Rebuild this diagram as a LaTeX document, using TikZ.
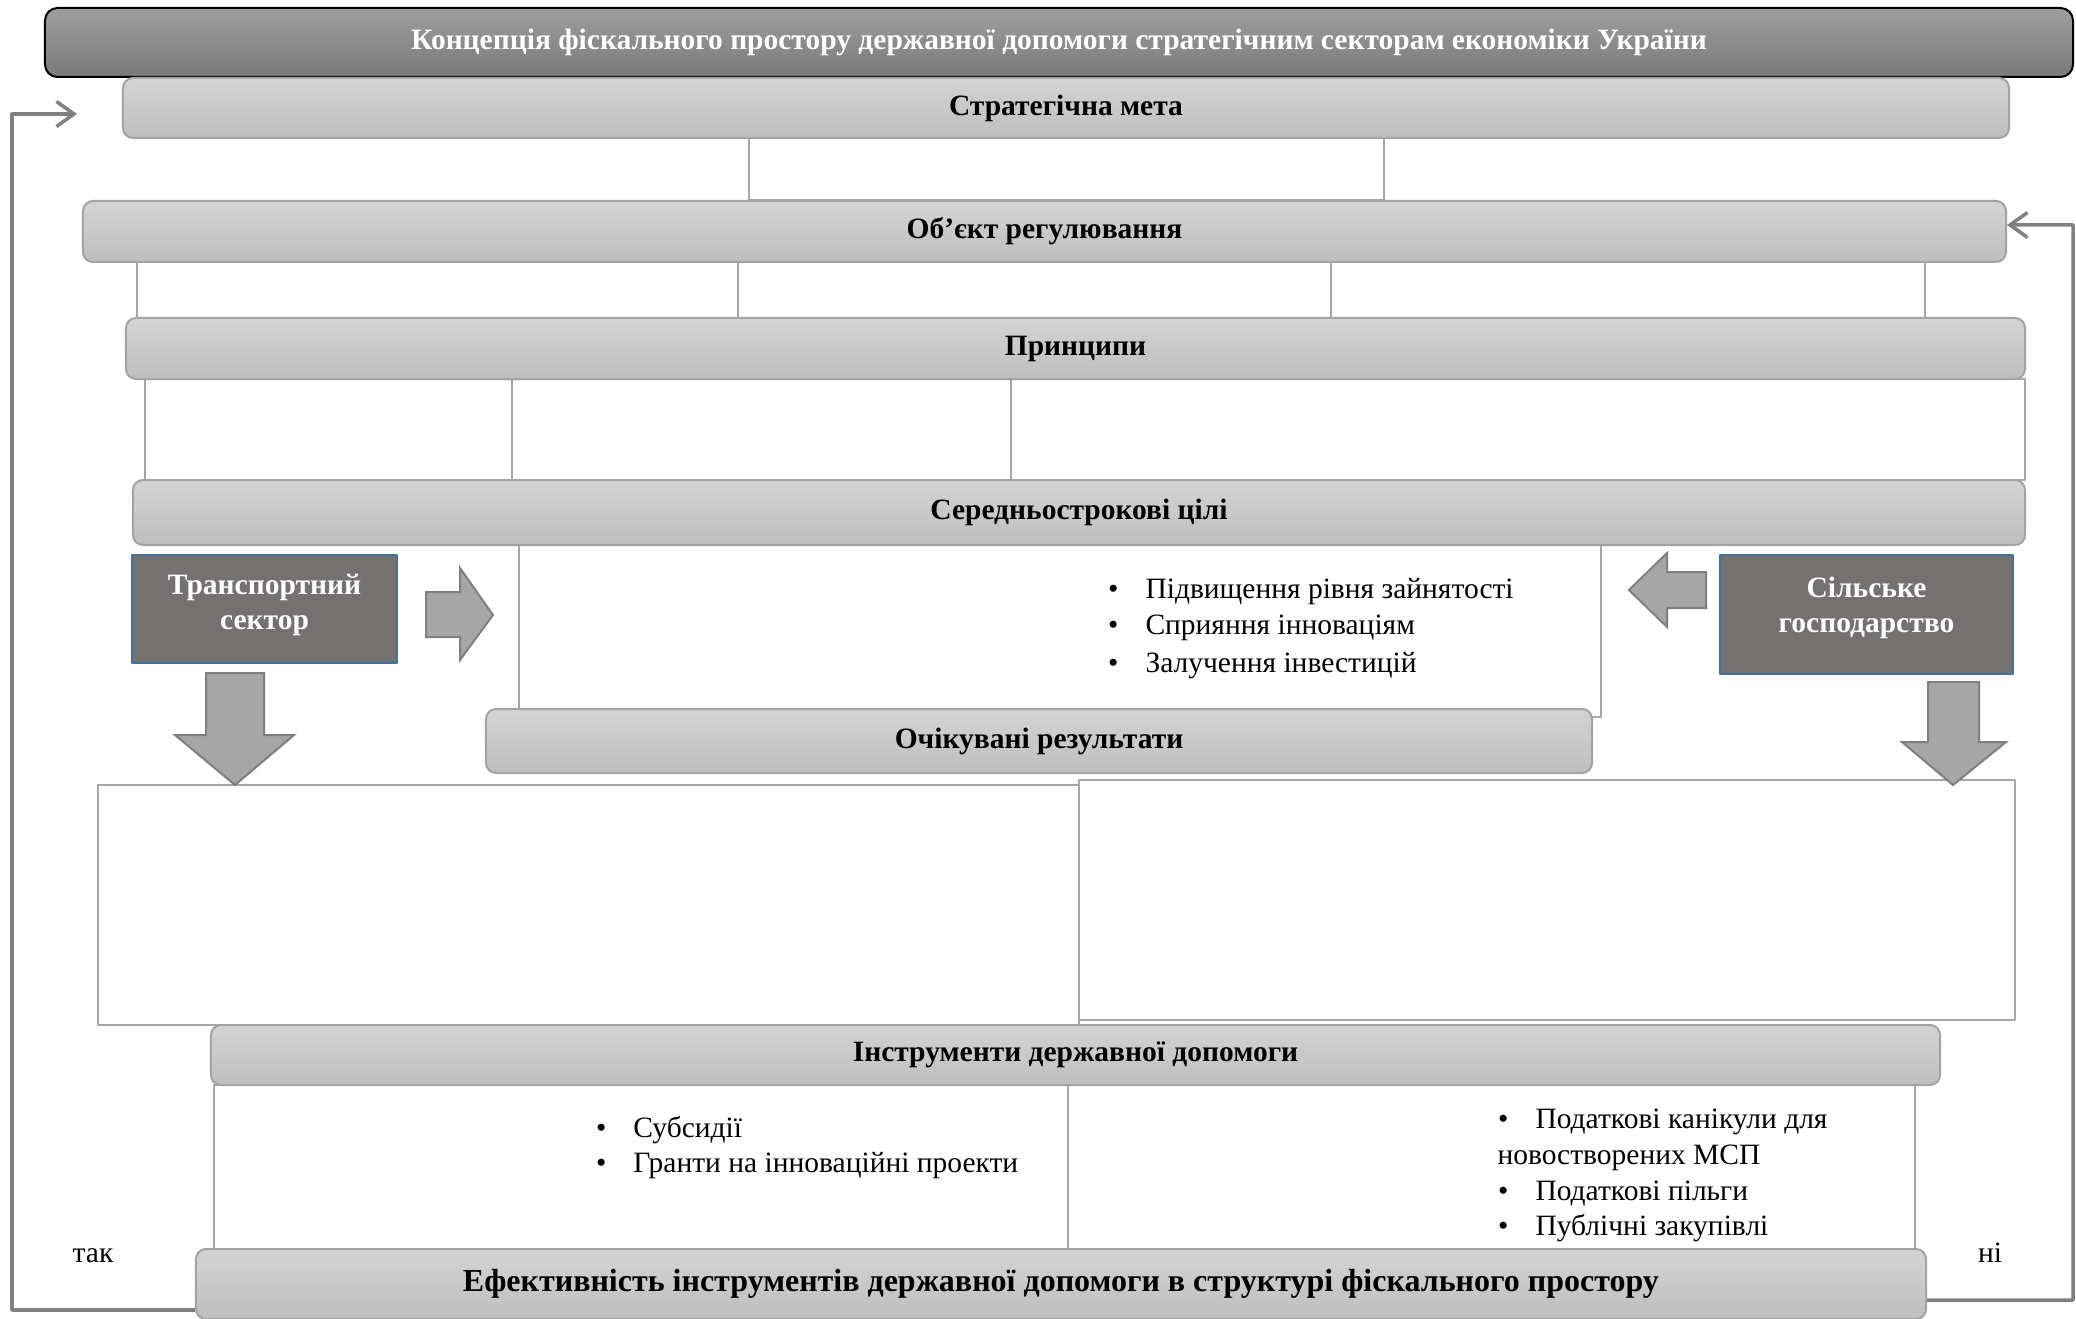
\documentclass[tikz,border=0pt]{standalone}
\usepackage{fontspec}
\setmainfont{Liberation Serif}
\usetikzlibrary{arrows.meta}

\definecolor{titletop}{HTML}{9E9E9E}
\definecolor{titlebot}{HTML}{7A7A7A}
\definecolor{bartop}{HTML}{D4D4D4}
\definecolor{barbot}{HTML}{BEBEBE}
\definecolor{barline}{HTML}{A3A3A3}
\definecolor{cellline}{HTML}{A6A6A6}
\definecolor{sectfill}{HTML}{767171}
\definecolor{sectline}{HTML}{41719C}
\definecolor{arrfill}{HTML}{A6A6A6}
\definecolor{arrline}{HTML}{7F7F7F}
\definecolor{loopcol}{HTML}{808080}

\newcommand{\blt}{\makebox[15pt][l]{•}}

\begin{document}
\fontsize{11.8}{14}\selectfont
\begin{tikzpicture}[line join=round,x=0.4pt,y=-0.4pt,
  titlebar/.style={draw=black,line width=0.8pt,rounded corners=5pt,top color=titletop,bottom color=titlebot,text=white,font=\bfseries,inner sep=0pt},
  bar/.style={draw=barline,line width=0.8pt,rounded corners=4pt,top color=bartop,bottom color=barbot,font=\bfseries,inner sep=0pt},
  cell/.style={draw=cellline,line width=0.8pt,fill=white},
  sector/.style={draw=sectline,line width=0.8pt,fill=sectfill,inner sep=0pt},
  sectlbl/.style={text=white,font=\bfseries,align=center,inner sep=0pt},
  blockarr/.style={draw=arrline,line width=0.8pt,fill=arrfill,line join=miter},
  loopline/.style={draw=loopcol,line width=1.4pt,-{Straight Barb[length=7pt,width=10pt]}},
  item/.style={anchor=base west,inner sep=0pt}]
\useasboundingbox (0,0) rectangle (2076,1319);
%cells behind the bars
\draw [cell] (749,138) rectangle (1384,200);
\draw [cell] (137,262) rectangle (738,318);
\draw [cell] (738,262) rectangle (1331,318);
\draw [cell] (1331,262) rectangle (1925,318);
\draw [cell] (145,379) rectangle (512,480);
\draw [cell] (512,379) rectangle (1011,480);
\draw [cell] (1011,379) rectangle (2025,480);
\draw [cell] (519,545) rectangle (1601,717);
\draw [cell] (98,785) rectangle (1079,1025);
\draw [cell] (1079,780) rectangle (2015,1020);
\draw [cell] (214,1085) rectangle (1068,1249);
\draw [cell] (1068,1085) rectangle (1915,1249);
%bars
\node [titlebar,minimum width=811.2pt,minimum height=27.6pt] (title) at (1059,42.5) {\raisebox{1pt}{Концепція фіскального простору державної допомоги стратегічним секторам економіки України}};
\node [bar,minimum width=754.4pt,minimum height=24pt] (goal) at (1066,108) {Стратегічна мета};
\node [bar,minimum width=769.2pt,minimum height=24.4pt] (object) at (1044.5,231.5) {Об’єкт регулювання};
\node [bar,minimum width=759.6pt,minimum height=24.4pt] (princ) at (1075.5,348.5) {Принципи};
\node [bar,minimum width=756.8pt,minimum height=26pt] (midterm) at (1079,512.5) {Середньострокові цілі};
\node [bar,minimum width=442.4pt,minimum height=25.6pt] (result) at (1039,741) {Очікувані результати};
\node [bar,minimum width=691.6pt,minimum height=24pt] (instr) at (1075.5,1055) {Інструменти державної допомоги};
\node [bar,minimum width=692pt,minimum height=28pt,font=\bfseries\fontsize{12.8}{14}\selectfont] (effect) at (1061,1284) {Ефективність інструментів державної допомоги в структурі фіскального простору};
%sectors
\node [sector,minimum width=106pt,minimum height=43.2pt,label={[sectlbl,yshift=1.8pt]center:Транспортний\\сектор}] (transp) at (264.5,609) {};
\node [sector,minimum width=117.2pt,minimum height=47.6pt,label={[sectlbl,yshift=2.8pt]center:Сільське\\господарство}] (agri) at (1866.5,614.5) {};
\draw [blockarr] (426,592) -- (460,592) -- (460,568) -- (493,615) -- (460,660) -- (460,637) -- (426,637) -- cycle;
\draw [blockarr] (206,673) -- (264,673) -- (264,735) -- (294,735) -- (235,785) -- (175,735) -- (206,735) -- cycle;
\draw [blockarr] (1706,572) -- (1667,572) -- (1667,553) -- (1629,590) -- (1667,627) -- (1667,608) -- (1706,608) -- cycle;
\draw [blockarr] (1928,682) -- (1979,682) -- (1979,742) -- (2006,742) -- (1953,785) -- (1902,742) -- (1928,742) -- cycle;
%feedback
\coordinate (back) at (77,114);
\draw [loopline] ([yshift=-10.4pt]effect.west) -| (12,114) -- (back);
\draw [loopline] ([yshift=-6.4pt]effect.east) -| (2073,225) -- ([yshift=2.6pt]object.east);
\node (yes) at (93,1256) {так};
\node (no) at (1990,1253) {ні};
%lists
\node [item] (g1) at (1107.5,598.5) {\blt Підвищення рівня зайнятості};
\node [item] (g2) at (1107.5,634) {\blt Сприяння інноваціям};
\node [item] (g3) at (1107.5,672) {\blt Залучення інвестицій};
\node [item] (s1) at (595.5,1137.5) {\blt Субсидії};
\node [item] (s2) at (595.5,1172.5) {\blt Гранти на інноваційні проекти};
\node [item] (t1) at (1497.5,1128.5) {\blt Податкові канікули для};
\node [item] (t2) at (1497,1164.5) {новостворених МСП};
\node [item] (t3) at (1497.5,1200.5) {\blt Податкові пільги};
\node [item] (t4) at (1497.5,1235.5) {\blt Публічні закупівлі};
\end{tikzpicture}
\end{document}
